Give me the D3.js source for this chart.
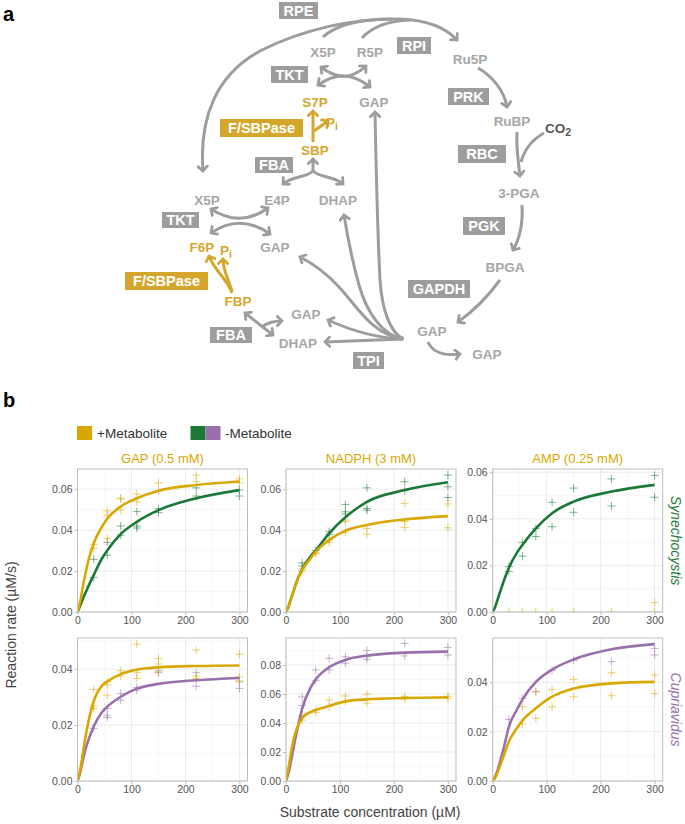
<!DOCTYPE html>
<html>
<head>
<meta charset="utf-8">
<script src="https://cdn.jsdelivr.net/npm/d3@7"></script>
<style>
  body { margin: 0; background: #fff; }
  svg { font-family: "Liberation Sans", Arial, Helvetica, sans-serif; }
</style>
</head>
<body>
<svg id="fig" width="685" height="824"></svg>
<script>
// ---- data for panel b ----
var fitX = [0, 5, 10, 15, 20, 30, 45, 55, 80, 110, 150, 220, 300];

// Synechocystis
var gapSynPlus = [[30,0.031],[30,0.033],[55,0.0494],[55,0.0473],[55,0.036],[80,0.0555],[80,0.0552],[80,0.0497],[110,0.0575],[110,0.0538],[150,0.063],[150,0.059],[220,0.0668],[220,0.0636],[300,0.065],[300,0.063]];
var gapSynMinus = [[30,0.0257],[30,0.0169],[55,0.034],[55,0.0277],[80,0.042],[80,0.0375],[110,0.049],[110,0.042],[110,0.041],[150,0.0505],[150,0.0485],[220,0.0606],[220,0.0566],[300,0.0595],[300,0.0566]];
var gapSynPlusFit  = [0, 0.005, 0.0125, 0.019, 0.025, 0.0335, 0.0415, 0.0455, 0.0515, 0.0555, 0.0592, 0.062, 0.0637];
var gapSynMinusFit = [0, 0.003, 0.0065, 0.0095, 0.0125, 0.018, 0.026, 0.030, 0.038, 0.044, 0.0497, 0.0555, 0.0595];

var nadphSynPlus = [[30,0.021],[30,0.020],[55,0.0289],[55,0.0285],[80,0.0351],[80,0.034],[110,0.0449],[110,0.0441],[110,0.0387],[150,0.0408],[150,0.038],[220,0.053],[220,0.0441],[220,0.0413],[300,0.0527],[300,0.0411]];
var nadphSynMinus = [[30,0.024],[30,0.0224],[55,0.030],[80,0.0392],[80,0.0379],[110,0.0525],[110,0.0489],[110,0.0478],[150,0.0606],[150,0.0505],[150,0.0497],[220,0.0636],[220,0.0592],[300,0.0668],[300,0.0611],[300,0.0559]];
var nadphSynPlusFit  = [0, 0.003, 0.007, 0.011, 0.015, 0.0205, 0.026, 0.0294, 0.0351, 0.0397, 0.0425, 0.0452, 0.0468];
var nadphSynMinusFit = [0, 0.003, 0.007, 0.011, 0.015, 0.021, 0.027, 0.030, 0.0384, 0.0462, 0.0538, 0.0595, 0.0633];

var ampSynPlus = [[30,0],[55,0],[80,0],[110,0],[150,0],[220,0],[300,0.004],[300,0]];
var ampSynMinus = [[30,0.0195],[30,0.0174],[55,0.0298],[55,0.024],[80,0.0359],[80,0.0324],[110,0.0471],[110,0.0366],[150,0.0532],[150,0.0428],[220,0.0571],[220,0.0455],[300,0.0586],[300,0.0493]];
var ampSynMinusFit = [0, 0.0025, 0.006, 0.0095, 0.013, 0.019, 0.0255, 0.0288, 0.0359, 0.0424, 0.0474, 0.0517, 0.0546];

// Cupriavidus
var gapCupPlus = [[30,0.0327],[30,0.0268],[30,0.0259],[55,0.0355],[55,0.0343],[55,0.0307],[80,0.0394],[80,0.0375],[110,0.0489],[110,0.0387],[110,0.0366],[150,0.0438],[150,0.0418],[150,0.039],[220,0.0468],[220,0.0375],[220,0.0366],[300,0.0453],[300,0.0372],[300,0.0358]];
var gapCupMinus = [[30,0.0188],[55,0.0259],[55,0.0235],[55,0.0227],[80,0.0313],[80,0.0289],[110,0.0334],[110,0.0325],[150,0.0394],[150,0.0387],[220,0.0387],[220,0.0339],[300,0.0354],[300,0.0331]];
var gapCupPlusFit  = [0, 0.004, 0.010, 0.016, 0.021, 0.0285, 0.034, 0.0355, 0.0382, 0.0398, 0.0406, 0.0411, 0.0413];
var gapCupMinusFit = [0, 0.003, 0.0075, 0.0115, 0.0145, 0.0195, 0.0245, 0.0265, 0.0301, 0.033, 0.0347, 0.036, 0.0368];

var nadphCupPlus = [[30,0.045],[30,0.042],[55,0.049],[55,0.0473],[80,0.0559],[80,0.0513],[110,0.0586],[110,0.0547],[150,0.0598],[150,0.0536],[220,0.0584],[220,0.0566],[300,0.0584],[300,0.057]];
var nadphCupMinus = [[30,0.052],[30,0.058],[55,0.0766],[55,0.0692],[80,0.0846],[80,0.0766],[110,0.0857],[110,0.0812],[150,0.0899],[150,0.0857],[150,0.0839],[220,0.0949],[220,0.0862],[300,0.0921],[300,0.0869]];
var nadphCupPlusFit  = [0, 0.010, 0.021, 0.030, 0.036, 0.0435, 0.0475, 0.049, 0.0518, 0.0549, 0.0563, 0.0572, 0.0577];
var nadphCupMinusFit = [0, 0.006, 0.015, 0.025, 0.034, 0.050, 0.064, 0.070, 0.0785, 0.0835, 0.0865, 0.0885, 0.0892];

var ampCupPlus = [[55,0.0301],[55,0.0231],[80,0.0362],[80,0.0254],[110,0.0371],[110,0.0301],[150,0.0412],[150,0.0342],[220,0.0439],[220,0.0346],[300,0.043],[300,0.0355]];
var ampCupMinus = [[30,0.025],[55,0.0335],[80,0.0362],[110,0.0449],[150,0.049],[220,0.0484],[300,0.0538],[300,0.0511]];
var ampCupPlusFit  = [0, 0.0015, 0.004, 0.007, 0.010, 0.016, 0.0215, 0.0245, 0.0295, 0.0342, 0.0375, 0.0396, 0.0402];
var ampCupMinusFit = [0, 0.002, 0.005, 0.009, 0.013, 0.022, 0.029, 0.033, 0.0402, 0.0452, 0.0493, 0.0534, 0.0555];

var xTicks = [0, 100, 200, 300];
var strips = ['GAP (0.5 mM)', 'NADPH (3 mM)', 'AMP (0.25 mM)'];
var organisms = ['Synechocystis', 'Cupriavidus'];

var gold = '#d9a800', green = '#1b7837', purple = '#9970ab';
var dGrey = '#9d9d9d', dGold = '#d4a72c';

var panels = [
  {col: 0, row: 0, ymax: 0.0698, ticks: [0, 0.02, 0.04, 0.06], series: [[gapSynMinus, gapSynMinusFit, green], [gapSynPlus, gapSynPlusFit, gold]]},
  {col: 1, row: 0, ymax: 0.0698, ticks: [0, 0.02, 0.04, 0.06], series: [[nadphSynMinus, nadphSynMinusFit, green], [nadphSynPlus, nadphSynPlusFit, gold]]},
  {col: 2, row: 0, ymax: 0.0614, ticks: [0, 0.02, 0.04, 0.06], series: [[ampSynMinus, ampSynMinusFit, green], [ampSynPlus, null, gold]]},
  {col: 0, row: 1, ymax: 0.0511, ticks: [0, 0.02, 0.04], series: [[gapCupMinus, gapCupMinusFit, purple], [gapCupPlus, gapCupPlusFit, gold]]},
  {col: 1, row: 1, ymax: 0.0986, ticks: [0, 0.02, 0.04, 0.06, 0.08], series: [[nadphCupMinus, nadphCupMinusFit, purple], [nadphCupPlus, nadphCupPlusFit, gold]]},
  {col: 2, row: 1, ymax: 0.058, ticks: [0, 0.02, 0.04], series: [[ampCupMinus, ampCupMinusFit, purple], [ampCupPlus, ampCupPlusFit, gold]]}
];

var svg = d3.select('#fig');

// ---- panel a : pathway diagram ----
var diag = svg.append('g');

var defs = svg.append('defs');
[['ag', dGrey], ['ay', dGold]].forEach(function(m) {
  defs.append('marker')
      .attr('id', m[0])
      .attr('viewBox', '-6 -6 12 12')
      .attr('markerWidth', 12).attr('markerHeight', 12)
      .attr('markerUnits', 'userSpaceOnUse')
      .attr('orient', 'auto-start-reverse')
      .append('path')
      .attr('d', 'M-4.5,-4.5 L0,0 L-4.5,4.5')
      .attr('fill', 'none')
      .attr('stroke', m[1])
      .attr('stroke-width', 2.8)
      .attr('stroke-linecap', 'square');
});

// [path, colour, arrow at start, arrow at end]
var arrows = [
  ['M203,171 C199,118 216,74 262,50 C302,30 352,18 400,19 C426,20 446,28 457,40', dGrey, true, true],
  ['M323,37 C336,25 360,19 392,19', dGrey, false, false],
  ['M362,38 C371,28 386,21 410,20', dGrey, false, false],
  ['M321,67 Q345,86 366,66', dGrey, true, true],
  ['M318,85 Q345,66 370,87', dGrey, true, true],
  ['M478,68 C492,76 504,90 507,107', dGrey, false, true],
  ['M517,132 C516,146 518,160 520,176', dGrey, false, true],
  ['M544,133 C533,139 525,148 521,162', dGrey, false, false],
  ['M313,173 L313,159', dGrey, false, true],
  ['M283,184 C292,176 306,178 313,171 C320,178 334,176 343,184', dGrey, true, true],
  ['M211,209 Q240,228 268,208', dGrey, true, true],
  ['M211,233 Q240,213 270,234', dGrey, true, true],
  ['M522,205 C523,222 520,238 513,250', dGrey, false, true],
  ['M500,280 C489,295 475,310 458,322', dGrey, false, true],
  ['M428,342 C433,353 445,356 460,354', dGrey, false, true],
  ['M245,313 L273,335', dGrey, true, true],
  ['M262,327 Q269,321 282,321', dGrey, false, true],
  ['M403,339 C378,340 350,341 325,342', dGrey, false, true],
  ['M403,339 C376,338 352,331 328,320', dGrey, false, true],
  ['M403,339 C372,335 356,305 339,287 C326,273 312,263 300,257', dGrey, false, true],
  ['M403,339 C381,335 366,310 359,285 C352,260 348,240 344,215', dGrey, false, true],
  ['M403,339 C390,332 382,310 380,280 C377,220 376,160 375,112', dGrey, false, true],
  ['M392,339 L404,338', dGrey, false, false],
  ['M313,142 L313,111', dGold, false, true],
  ['M314,131 L328,121', dGold, false, true],
  ['M232,293 C228,280 214,270 209,256', dGold, false, true],
  ['M232,291 C228,279 223,270 223,259', dGold, false, true]
];

diag.selectAll('path.flow')
    .data(arrows)
    .enter()
    .append('path')
    .attr('class', 'flow')
    .attr('d', function(d) { return d[0]; })
    .attr('fill', 'none')
    .attr('stroke', function(d) { return d[1]; })
    .attr('stroke-width', 3)
    .attr('marker-start', function(d) { return d[2] ? (d[1] === dGold ? 'url(#ay)' : 'url(#ag)') : null; })
    .attr('marker-end', function(d) { return d[3] ? (d[1] === dGold ? 'url(#ay)' : 'url(#ag)') : null; });

// enzyme boxes [text, x, y, w, h, fill]
var boxes = [
  ['RPE', 279, 2, 39, 17, dGrey],
  ['RPI', 397, 37, 34, 17, dGrey],
  ['TKT', 271, 66, 37, 17, dGrey],
  ['PRK', 448, 88, 41, 17, dGrey],
  ['F/SBPase', 220, 119, 83, 18, dGold],
  ['RBC', 458, 145, 48, 18, dGrey],
  ['FBA', 255, 157, 38, 16, dGrey],
  ['TKT', 162, 212, 37, 16, dGrey],
  ['PGK', 463, 217, 42, 18, dGrey],
  ['F/SBPase', 125, 272, 83, 18, dGold],
  ['GAPDH', 408, 280, 62, 18, dGrey],
  ['FBA', 210, 327, 42, 16, dGrey],
  ['TPI', 353, 352, 31, 17, dGrey]
];

var box = diag.selectAll('g.box')
              .data(boxes)
              .enter()
              .append('g')
              .attr('class', 'box');

box.append('rect')
   .attr('x', function(d) { return d[1]; })
   .attr('y', function(d) { return d[2]; })
   .attr('width', function(d) { return d[3]; })
   .attr('height', function(d) { return d[4]; })
   .attr('fill', function(d) { return d[5]; });

box.append('text')
   .attr('x', function(d) { return d[1] + d[3] / 2; })
   .attr('y', function(d) { return d[2] + d[4] / 2; })
   .attr('dy', '0.36em')
   .attr('text-anchor', 'middle')
   .attr('fill', '#fff')
   .attr('font-weight', 'bold')
   .attr('font-size', 14.5)
   .text(function(d) { return d[0]; });

// metabolites [text, cx, cy, colour, subscript]
var mets = [
  ['X5P', 323, 52, dGrey], ['R5P', 370, 52, dGrey], ['Ru5P', 470, 59, dGrey],
  ['S7P', 315, 102, dGold], ['GAP', 374, 102, dGrey],
  ['RuBP', 512, 121, dGrey], ['CO', 558, 128, '#555', '2'],
  ['P', 332, 122, dGold, 'i'], ['SBP', 315, 150, dGold],
  ['X5P', 207, 200, dGrey], ['E4P', 277, 200, dGrey], ['DHAP', 338, 200, dGrey],
  ['3-PGA', 519, 193, dGrey],
  ['F6P', 202, 247, dGold], ['P', 226, 250, dGold, 'i'], ['GAP', 275, 247, dGrey],
  ['BPGA', 505, 267, dGrey],
  ['FBP', 238, 301, dGold], ['GAP', 306, 314, dGrey], ['DHAP', 298, 343, dGrey],
  ['GAP', 432, 331, dGrey], ['GAP', 487, 354, dGrey]
];

var met = diag.selectAll('text.met')
              .data(mets)
              .enter()
              .append('text')
              .attr('class', 'met')
              .attr('x', function(d) { return d[1]; })
              .attr('y', function(d) { return d[2]; })
              .attr('dy', '0.36em')
              .attr('text-anchor', 'middle')
              .attr('fill', function(d) { return d[3] === dGrey ? '#a6a6a6' : d[3]; })
              .attr('font-weight', 'bold')
              .attr('font-size', 13.5)
              .text(function(d) { return d[0]; });

met.filter(function(d) { return d[4]; })
   .append('tspan')
   .attr('dy', '0.3em')
   .attr('font-size', 10.5)
   .text(function(d) { return d[4]; });

svg.append('text').attr('x', 3).attr('y', 21).attr('font-size', 20).attr('font-weight', 'bold').text('a');
svg.append('text').attr('x', 3).attr('y', 407).attr('font-size', 20).attr('font-weight', 'bold').text('b');

// ---- panel b : kinetics facets ----
var colX = [77.5, 286, 492.7],
    rowY = [469, 638],
    pw = 170, ph = 143;

var x = d3.scaleLinear().domain([0, 315]).range([0, pw]);

// legend
var leg = svg.append('g').attr('font-size', 13.5).attr('fill', '#333');
leg.append('rect').attr('x', 77).attr('y', 426).attr('width', 15).attr('height', 14).attr('fill', gold);
leg.append('text').attr('x', 97).attr('y', 438).text('+Metabolite');
leg.append('rect').attr('x', 190.5).attr('y', 426).attr('width', 15).attr('height', 14).attr('fill', green);
leg.append('rect').attr('x', 205.5).attr('y', 426).attr('width', 15).attr('height', 14).attr('fill', purple);
leg.append('text').attr('x', 225).attr('y', 438).text('-Metabolite');

var line = d3.line()
             .x(function(d) { return x(d[0]); })
             .y(function(d) { return d[2](d[1]); })
             .curve(d3.curveMonotoneX);

panels.forEach(function(p, i) {
  var y = d3.scaleLinear().domain([0, p.ymax]).range([ph, 0]);
  var g = svg.append('g').attr('transform', 'translate(' + colX[p.col] + ',' + rowY[p.row] + ')');

  g.append('clipPath').attr('id', 'clip' + i)
   .append('rect').attr('width', pw).attr('height', ph);

  // grid
  var minorY = [];
  for (var k = 0; k < p.ticks.length; k++) { minorY.push(p.ticks[k] + 0.01); }
  g.selectAll('.gminy').data(minorY.filter(function(v) { return v < p.ymax; })).enter()
   .append('line').attr('x1', 0).attr('x2', pw)
   .attr('y1', function(d) { return y(d); }).attr('y2', function(d) { return y(d); })
   .attr('stroke', '#f2f2f2').attr('stroke-width', 0.6);
  g.selectAll('.gminx').data([50, 150, 250]).enter()
   .append('line').attr('y1', 0).attr('y2', ph)
   .attr('x1', function(d) { return x(d); }).attr('x2', function(d) { return x(d); })
   .attr('stroke', '#f2f2f2').attr('stroke-width', 0.6);
  g.selectAll('.gmajy').data(p.ticks).enter()
   .append('line').attr('x1', 0).attr('x2', pw)
   .attr('y1', function(d) { return y(d); }).attr('y2', function(d) { return y(d); })
   .attr('stroke', '#e6e6e6').attr('stroke-width', 0.8);
  g.selectAll('.gmajx').data(xTicks).enter()
   .append('line').attr('y1', 0).attr('y2', ph)
   .attr('x1', function(d) { return x(d); }).attr('x2', function(d) { return x(d); })
   .attr('stroke', '#e6e6e6').attr('stroke-width', 0.8);

  var plot = g.append('g').attr('clip-path', 'url(#clip' + i + ')');

  p.series.forEach(function(s) {
    plot.selectAll(null).data(s[0]).enter()
        .append('path')
        .attr('d', function(d) {
          var cx = x(d[0]), cy = y(d[1]);
          return 'M' + (cx - 4) + ',' + cy + 'H' + (cx + 4) + 'M' + cx + ',' + (cy - 4) + 'V' + (cy + 4);
        })
        .attr('stroke', s[2])
        .attr('stroke-opacity', 0.55)
        .attr('stroke-width', 1);
  });
  p.series.forEach(function(s) {
    if (!s[1]) return;
    var pts = fitX.map(function(v, j) { return [v, s[1][j], y]; });
    plot.append('path')
        .attr('d', line(pts))
        .attr('fill', 'none')
        .attr('stroke', s[2])
        .attr('stroke-width', 2.6);
  });

  g.append('rect').attr('width', pw).attr('height', ph)
   .attr('fill', 'none').attr('stroke', '#bdbdbd').attr('stroke-width', 1);

  var ya = g.append('g')
            .call(d3.axisLeft(y).tickValues(p.ticks).tickFormat(d3.format('.2f')).tickSize(3).tickPadding(2));
  var xa = g.append('g').attr('transform', 'translate(0,' + ph + ')')
            .call(d3.axisBottom(x).tickValues(xTicks).tickSize(3).tickPadding(2));
  [ya, xa].forEach(function(a) {
    a.select('.domain').remove();
    a.selectAll('line').attr('stroke', '#bdbdbd');
    a.selectAll('text').attr('fill', '#555').attr('font-size', 10.5)
     .attr('font-family', '"Liberation Sans", Arial, sans-serif');
  });

  if (p.row === 0) {
    g.append('text').attr('x', pw / 2).attr('y', -6)
     .attr('text-anchor', 'middle').attr('fill', gold).attr('font-size', 13)
     .text(strips[p.col]);
  }
  if (p.col === 2) {
    g.append('text')
     .attr('transform', 'translate(' + (pw + 8) + ',' + (ph / 2) + ') rotate(90)')
     .attr('text-anchor', 'middle')
     .attr('font-style', 'italic').attr('font-size', 14)
     .attr('fill', p.row === 0 ? green : purple)
     .text(organisms[p.row]);
  }
});

svg.append('text')
   .attr('transform', 'translate(16,' + (rowY[0] + (rowY[1] + ph - rowY[0]) / 2) + ') rotate(-90)')
   .attr('text-anchor', 'middle').attr('font-size', 14).attr('fill', '#444')
   .text('Reaction rate (µM/s)');

svg.append('text')
   .attr('x', (colX[0] + colX[2] + pw) / 2).attr('y', 817)
   .attr('text-anchor', 'middle').attr('font-size', 14).attr('fill', '#444')
   .text('Substrate concentration (µM)');
</script>
</body>
</html>
